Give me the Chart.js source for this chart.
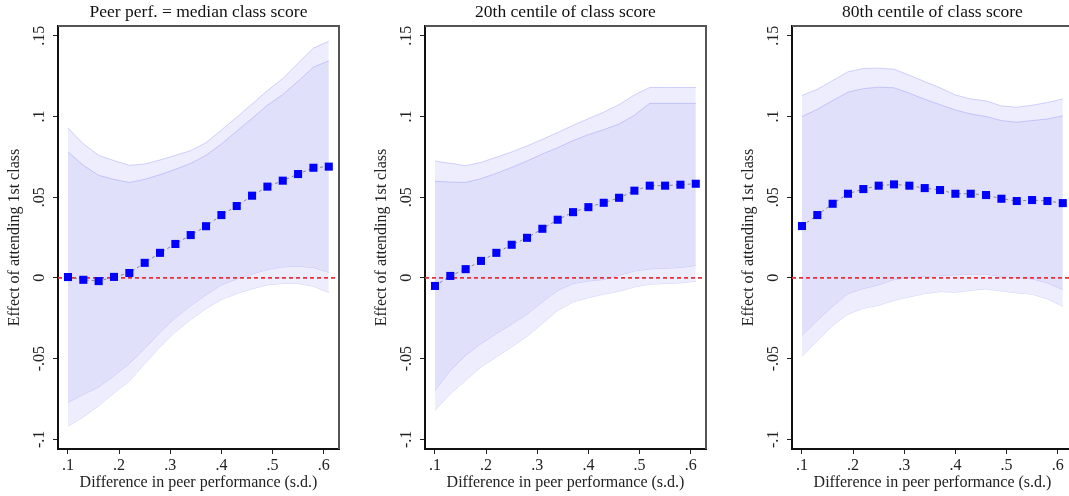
<!DOCTYPE html>
<html>
<head>
<meta charset="utf-8">
<script src="https://cdn.jsdelivr.net/npm/chart.js@4"></script>
<style>
  body { margin: 0; background: #fff; }
  #wrap { position: relative; width: 1069px; height: 496px; overflow: hidden; }
  .panel { position: absolute; top: 0; width: 367px; height: 496px; }
</style>
</head>
<body>
<div id="wrap">
  <div class="panel" style="left:0px"><canvas id="c1"></canvas></div>
  <div class="panel" style="left:367px"><canvas id="c2"></canvas></div>
  <div class="panel" style="left:734px"><canvas id="c3"></canvas></div>
</div>
<script>
// Difference in peer performance (s.d.)
const xValues = [0.10, 0.13, 0.16, 0.19, 0.22, 0.25, 0.28, 0.31, 0.34, 0.37, 0.40, 0.43, 0.46, 0.49, 0.52, 0.55, 0.58, 0.61];
const xTickValues = [0.1, 0.2, 0.3, 0.4, 0.5, 0.6];
const xTickLabels = ['.1', '.2', '.3', '.4', '.5', '.6'];
const yTickValues = [-0.1, -0.05, 0, 0.05, 0.1, 0.15];
const yTickLabels = ['-.1', '-.05', '0', '.05', '.1', '.15'];

const panelTitles = ['Peer perf. = median class score', '20th centile of class score', '80th centile of class score'];

// Peer perf. = median class score
const medianEst  = [0.0005, -0.0012, -0.002, 0.0006, 0.003, 0.0093, 0.0155, 0.021, 0.0265, 0.032, 0.0389, 0.0445, 0.0509, 0.0565, 0.0602, 0.0643, 0.0682, 0.0689];
const medianHi95 = [0.0928, 0.083, 0.0759, 0.0726, 0.0697, 0.0705, 0.073, 0.0759, 0.0788, 0.0837, 0.0916, 0.0995, 0.1077, 0.116, 0.1234, 0.133, 0.1423, 0.1466];
const medianHi90 = [0.078, 0.0697, 0.0635, 0.061, 0.0591, 0.061, 0.0639, 0.0672, 0.0709, 0.0759, 0.0829, 0.0908, 0.0988, 0.1069, 0.1135, 0.1218, 0.1305, 0.1344];
const medianLo90 = [-0.0771, -0.0722, -0.0676, -0.0606, -0.0531, -0.0438, -0.0337, -0.0248, -0.0172, -0.0105, -0.0043, -0.0006, 0.0023, 0.0052, 0.0068, 0.0072, 0.0064, 0.0035];
const medianLo95 = [-0.0918, -0.0862, -0.0792, -0.0713, -0.0639, -0.0531, -0.0428, -0.0335, -0.0258, -0.019, -0.0134, -0.0097, -0.0068, -0.0043, -0.0035, -0.0035, -0.0052, -0.0091];

// 20th centile of class score
const p20Est  = [-0.005, 0.0012, 0.0054, 0.0105, 0.0155, 0.0205, 0.0248, 0.0304, 0.036, 0.0407, 0.0438, 0.0465, 0.0496, 0.054, 0.0571, 0.0571, 0.0577, 0.0583];
const p20Hi95 = [0.0724, 0.0709, 0.0695, 0.0715, 0.0747, 0.078, 0.0817, 0.0858, 0.09, 0.0945, 0.0986, 0.1026, 0.1073, 0.1133, 0.1179, 0.1179, 0.1179, 0.1179];
const p20Hi90 = [0.0598, 0.0593, 0.0591, 0.0614, 0.0647, 0.0684, 0.0724, 0.0767, 0.0806, 0.085, 0.0887, 0.0918, 0.0953, 0.1007, 0.1081, 0.1081, 0.1081, 0.1081];
const p20Lo90 = [-0.0697, -0.0573, -0.048, -0.0407, -0.0345, -0.0287, -0.0225, -0.0149, -0.0077, -0.0035, -0.0019, -0.001, 0.0017, 0.0043, 0.0056, 0.006, 0.0064, 0.0077];
const p20Lo95 = [-0.0821, -0.0718, -0.0635, -0.0552, -0.049, -0.0428, -0.0362, -0.0283, -0.0201, -0.0149, -0.0122, -0.0101, -0.0083, -0.0056, -0.0039, -0.0035, -0.0031, -0.0021];

// 80th centile of class score
const p80Est  = [0.0321, 0.0389, 0.0459, 0.0521, 0.055, 0.0571, 0.0579, 0.0571, 0.0556, 0.0544, 0.0521, 0.0521, 0.0513, 0.049, 0.0476, 0.0482, 0.0476, 0.0463];
const p80Hi95 = [0.1129, 0.1168, 0.1222, 0.1276, 0.1297, 0.1299, 0.1292, 0.1255, 0.1216, 0.1177, 0.1133, 0.1108, 0.1096, 0.1065, 0.1057, 0.1069, 0.1086, 0.1108];
const p80Hi90 = [0.0999, 0.1044, 0.1098, 0.115, 0.1172, 0.1181, 0.1177, 0.1144, 0.1106, 0.1073, 0.104, 0.1015, 0.0999, 0.0974, 0.0964, 0.0974, 0.0984, 0.1003];
const p80Lo90 = [-0.0356, -0.0263, -0.0176, -0.0097, -0.0066, -0.0043, -0.001, 0.0002, 0.001, 0.0014, 0.0019, 0.0023, 0.0023, 0.001, 0.0002, -0.0006, -0.0031, -0.0072];
const p80Lo95 = [-0.0486, -0.0387, -0.0294, -0.0225, -0.0188, -0.017, -0.0139, -0.0118, -0.0097, -0.0085, -0.0089, -0.0077, -0.0068, -0.0081, -0.0093, -0.0101, -0.013, -0.0176];

const X_MIN = 0.0805, X_MAX = 0.63;
const Y_MIN = -0.106, Y_MAX = 0.156;
const FONT = "'Liberation Serif', 'Times New Roman', serif";

const pts = (ys) => xValues.map((x, i) => ({ x: x, y: ys[i] }));

// rotated y tick labels + top/right frame
const framePlugin = {
    id: 'frame',
    afterDraw(chart) {
        const ctx = chart.ctx;
        const a = chart.chartArea;
        const y = chart.scales.y;
        ctx.save();
        ctx.strokeStyle = '#555';
        ctx.lineWidth = 2;
        ctx.beginPath();
        ctx.moveTo(a.left, a.top);
        ctx.lineTo(a.right, a.top);
        ctx.lineTo(a.right, a.bottom);
        ctx.stroke();
        ctx.fillStyle = '#222';
        ctx.font = '16px ' + FONT;
        ctx.textAlign = 'center';
        ctx.textBaseline = 'middle';
        yTickValues.forEach((v, i) => {
            ctx.save();
            ctx.translate(40, y.getPixelForValue(v));
            ctx.rotate(-Math.PI / 2);
            ctx.fillText(yTickLabels[i], 0, 0);
            ctx.restore();
        });
        ctx.restore();
    }
};

const makePanel = (id, title, est, lo95, hi95, lo90, hi90) => {
    const ctx = document.getElementById(id).getContext('2d');
    return new Chart(ctx, {
        type: 'line',
        data: {
            datasets: [
                { data: pts(lo95), borderColor: 'rgba(190,190,250,0.7)', borderWidth: 1, pointRadius: 0, fill: false, order: 5 },
                { data: pts(hi95), borderColor: 'rgba(190,190,250,0.7)', borderWidth: 1, pointRadius: 0,
                  fill: { target: 0 }, backgroundColor: 'rgb(237,237,253)', order: 4 },
                { data: pts(lo90), borderColor: 'rgba(180,180,250,0.7)', borderWidth: 1, pointRadius: 0, fill: false, order: 3 },
                { data: pts(hi90), borderColor: 'rgba(180,180,250,0.7)', borderWidth: 1, pointRadius: 0,
                  fill: { target: 2 }, backgroundColor: 'rgb(224,224,250)', order: 2 },
                { data: [{ x: X_MIN, y: 0 }, { x: X_MAX, y: 0 }], borderColor: '#e8303c', borderWidth: 1.8,
                  borderDash: [4, 3], pointRadius: 0, fill: false, order: 1 },
                { data: pts(est), borderColor: '#888', borderWidth: 1, borderDash: [3, 3],
                  pointStyle: 'rect', pointRadius: 5.7, pointBackgroundColor: '#0000ff', pointBorderWidth: 0,
                  fill: false, order: 0 }
            ]
        },
        options: {
            responsive: true,
            maintainAspectRatio: false,
            animation: false,
            layout: { padding: { left: 0, right: 28, top: 0, bottom: 0 } },
            plugins: {
                legend: { display: false },
                tooltip: { enabled: false },
                title: {
                    display: true,
                    text: title,
                    fullSize: false,
                    color: '#111',
                    font: { family: FONT, size: 17.5, weight: 'normal' },
                    padding: { top: 2, bottom: 3 }
                }
            },
            scales: {
                x: {
                    type: 'linear',
                    min: X_MIN,
                    max: X_MAX,
                    afterBuildTicks: (s) => { s.ticks = xTickValues.map(v => ({ value: v })); },
                    afterFit: (s) => { s.height = 47; },
                    grid: { drawOnChartArea: false, drawTicks: true, tickLength: 5, color: '#222' },
                    border: { display: true, color: '#111', width: 2 },
                    ticks: {
                        padding: 2,
                        color: '#222',
                        font: { family: FONT, size: 16 },
                        maxRotation: 0,
                        callback: (v) => xTickLabels[xTickValues.findIndex(t => Math.abs(t - v) < 1e-9)]
                    },
                    title: {
                        display: true,
                        text: 'Difference in peer performance (s.d.)',
                        color: '#222',
                        font: { family: FONT, size: 16 },
                        padding: { top: 3.5, bottom: 3.5 }
                    }
                },
                y: {
                    type: 'linear',
                    min: Y_MIN,
                    max: Y_MAX,
                    afterBuildTicks: (s) => { s.ticks = yTickValues.map(v => ({ value: v })); },
                    afterFit: (s) => { s.width = 58; },
                    grid: { drawOnChartArea: false, drawTicks: true, tickLength: 5, color: '#222' },
                    border: { display: true, color: '#111', width: 2 },
                    ticks: { display: false },
                    title: {
                        display: true,
                        text: 'Effect of attending 1st class',
                        color: '#222',
                        font: { family: FONT, size: 16 },
                        padding: { top: 5.5, bottom: 5.5 }
                    }
                }
            }
        },
        plugins: [framePlugin]
    });
};

document.addEventListener('DOMContentLoaded', () => {
    makePanel('c1', panelTitles[0], medianEst, medianLo95, medianHi95, medianLo90, medianHi90);
    makePanel('c2', panelTitles[1], p20Est, p20Lo95, p20Hi95, p20Lo90, p20Hi90);
    makePanel('c3', panelTitles[2], p80Est, p80Lo95, p80Hi95, p80Lo90, p80Hi90);
});
</script>
</body>
</html>
